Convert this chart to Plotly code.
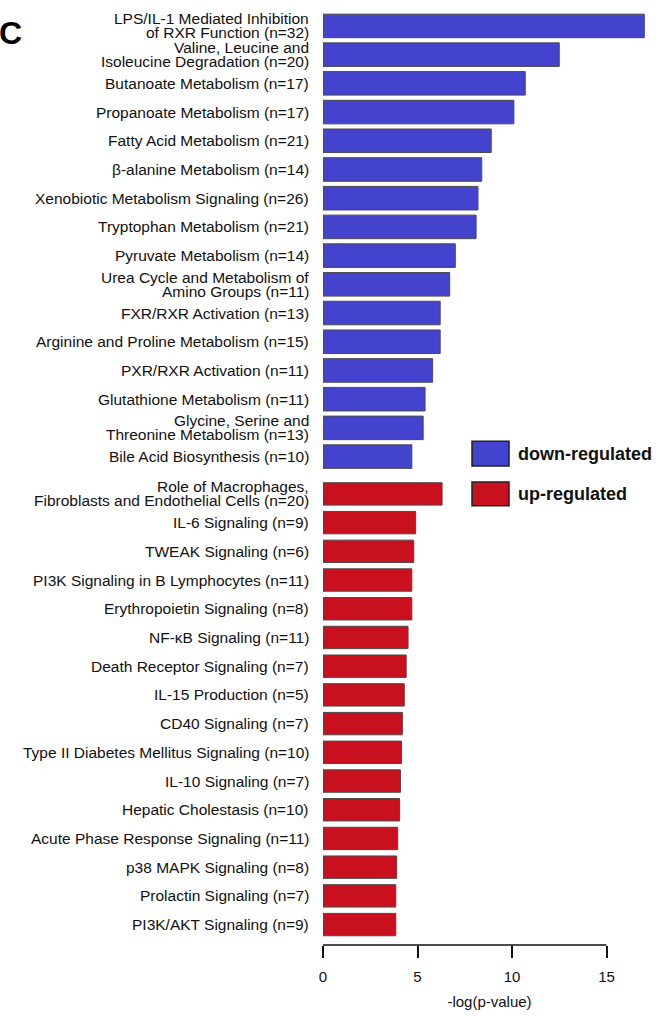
import plotly.graph_objects as go

# ---------------- data ----------------
down_labels = [
    "LPS/IL-1 Mediated Inhibition<br>of RXR Function (n=32)",
    "Valine, Leucine and<br>Isoleucine Degradation (n=20)",
    "Butanoate Metabolism (n=17)",
    "Propanoate Metabolism (n=17)",
    "Fatty Acid Metabolism (n=21)",
    "β-alanine Metabolism (n=14)",
    "Xenobiotic Metabolism Signaling (n=26)",
    "Tryptophan Metabolism (n=21)",
    "Pyruvate Metabolism (n=14)",
    "Urea Cycle and Metabolism of<br>Amino Groups (n=11)",
    "FXR/RXR Activation (n=13)",
    "Arginine and Proline Metabolism (n=15)",
    "PXR/RXR Activation (n=11)",
    "Glutathione Metabolism (n=11)",
    "Glycine, Serine and<br>Threonine Metabolism (n=13)",
    "Bile Acid Biosynthesis (n=10)",
]
down_values = [17.0, 12.5, 10.7, 10.1, 8.9, 8.4, 8.2, 8.1, 7.0, 6.7, 6.2, 6.2, 5.8, 5.4, 5.3, 4.7]

up_labels = [
    "Role of Macrophages,<br>Fibroblasts and Endothelial Cells (n=20)",
    "IL-6 Signaling (n=9)",
    "TWEAK Signaling (n=6)",
    "PI3K Signaling in B Lymphocytes (n=11)",
    "Erythropoietin Signaling (n=8)",
    "NF-κB Signaling (n=11)",
    "Death Receptor Signaling (n=7)",
    "IL-15 Production (n=5)",
    "CD40 Signaling (n=7)",
    "Type II Diabetes Mellitus Signaling (n=10)",
    "IL-10 Signaling (n=7)",
    "Hepatic Cholestasis (n=10)",
    "Acute Phase Response Signaling (n=11)",
    "p38 MAPK Signaling (n=8)",
    "Prolactin Signaling (n=7)",
    "PI3K/AKT Signaling (n=9)",
]
up_values = [6.3, 4.9, 4.8, 4.7, 4.7, 4.5, 4.4, 4.3, 4.2, 4.15, 4.1, 4.05, 3.95, 3.9, 3.85, 3.85]

x_ticks = [0, 5, 10, 15]
x_title = "-log(p-value)"
legend_names = ["down-regulated", "up-regulated"]
panel_label = "C"

# ---------------- style ----------------
BLUE = "#4343CD"
RED = "#C8101E"
EDGE = "#4a4a4a"
FONT = "Liberation Sans, Arial, Helvetica, sans-serif"

W, H = 666, 1016
L, R, T, B = 323, 10, 8, 67
GROUP_GAP = 0.3

down_pos = list(range(len(down_labels)))
up_pos = [len(down_labels) + GROUP_GAP + i for i in range(len(up_labels))]

fig = go.Figure()
fig.add_trace(go.Bar(
    x=down_values, y=down_pos, orientation="h", width=0.82,
    marker=dict(color=BLUE, line=dict(color=EDGE, width=1)),
    name=legend_names[0], showlegend=False, hoverinfo="x",
))
fig.add_trace(go.Bar(
    x=up_values, y=up_pos, orientation="h", width=0.78,
    marker=dict(color=RED, line=dict(color=EDGE, width=1)),
    name=legend_names[1], showlegend=False, hoverinfo="x",
))

annotations = []
# category labels (right aligned, tight line spacing as in the reference)
LINE_GAP = 7.0
for labels, positions in ((down_labels, down_pos), (up_labels, up_pos)):
    for lab, p in zip(labels, positions):
        lines = lab.split("<br>")
        n = len(lines)
        for k, line in enumerate(lines):
            shift = (n - 1) * LINE_GAP - 2 * LINE_GAP * k
            annotations.append(dict(
                text=line, xref="paper", yref="y", x=0, y=p,
                xanchor="right", yanchor="middle", xshift=-12, yshift=shift,
                showarrow=False, font=dict(family=FONT, size=15.5, color="#111"),
            ))

plot_w = W - L - R
plot_h = H - T - B


def px_x(px):
    return (px - L) / plot_w


def px_y(py):
    return (H - B - py) / plot_h


# legend drawn by hand (large boxes)
shapes = []
for name, color, (y0, y1) in zip(legend_names, (BLUE, RED), ((443, 468), (484, 508))):
    shapes.append(dict(type="rect", xref="paper", yref="paper",
                       x0=px_x(472), x1=px_x(509), y0=px_y(y1), y1=px_y(y0),
                       fillcolor=color, line=dict(color="#222", width=1.5)))
    annotations.append(dict(text=f"<b>{name}</b>", xref="paper", yref="paper",
                            x=px_x(516), y=px_y((y0 + y1) / 2), xanchor="left", yanchor="middle",
                            showarrow=False, font=dict(family=FONT, size=18, color="#111")))

# axis line spanning the tick range only
shapes.append(dict(type="line", xref="x", yref="paper", x0=min(x_ticks), x1=max(x_ticks),
                   y0=0, y1=0, line=dict(color="#111", width=1.5)))

annotations.append(dict(text=f"<b>{panel_label}</b>", xref="paper", yref="paper",
                        x=px_x(-3), y=px_y(33), xanchor="left", yanchor="middle",
                        showarrow=False, font=dict(family=FONT, size=32, color="#000")))

xmax = plot_w / 18.9
ytop = -18 / 28.83
ybot = up_pos[-1] + 20.5 / 28.83

fig.update_layout(
    width=W, height=H,
    margin=dict(l=L, r=R, t=T, b=B),
    plot_bgcolor="white", paper_bgcolor="white",
    showlegend=False,
    shapes=shapes,
    annotations=annotations,
    font=dict(family=FONT, color="#111"),
    xaxis=dict(
        range=[0, xmax], tickvals=x_ticks, ticktext=[str(v) for v in x_ticks],
        ticks="outside", ticklen=12, tickwidth=1.5, tickcolor="#111",
        showgrid=False, zeroline=False, showline=False,
        tickfont=dict(family=FONT, size=15, color="#111"),
        title=dict(text=x_title, font=dict(family=FONT, size=15, color="#111"), standoff=12),
        ticklabelstandoff=6,
    ),
    yaxis=dict(
        range=[ybot, ytop], showticklabels=False, ticks="",
        showgrid=False, zeroline=False, showline=False,
    ),
)

fig.write_html("out.html", config={"displayModeBar": False},
               post_script="document.body.style.margin='0';")
